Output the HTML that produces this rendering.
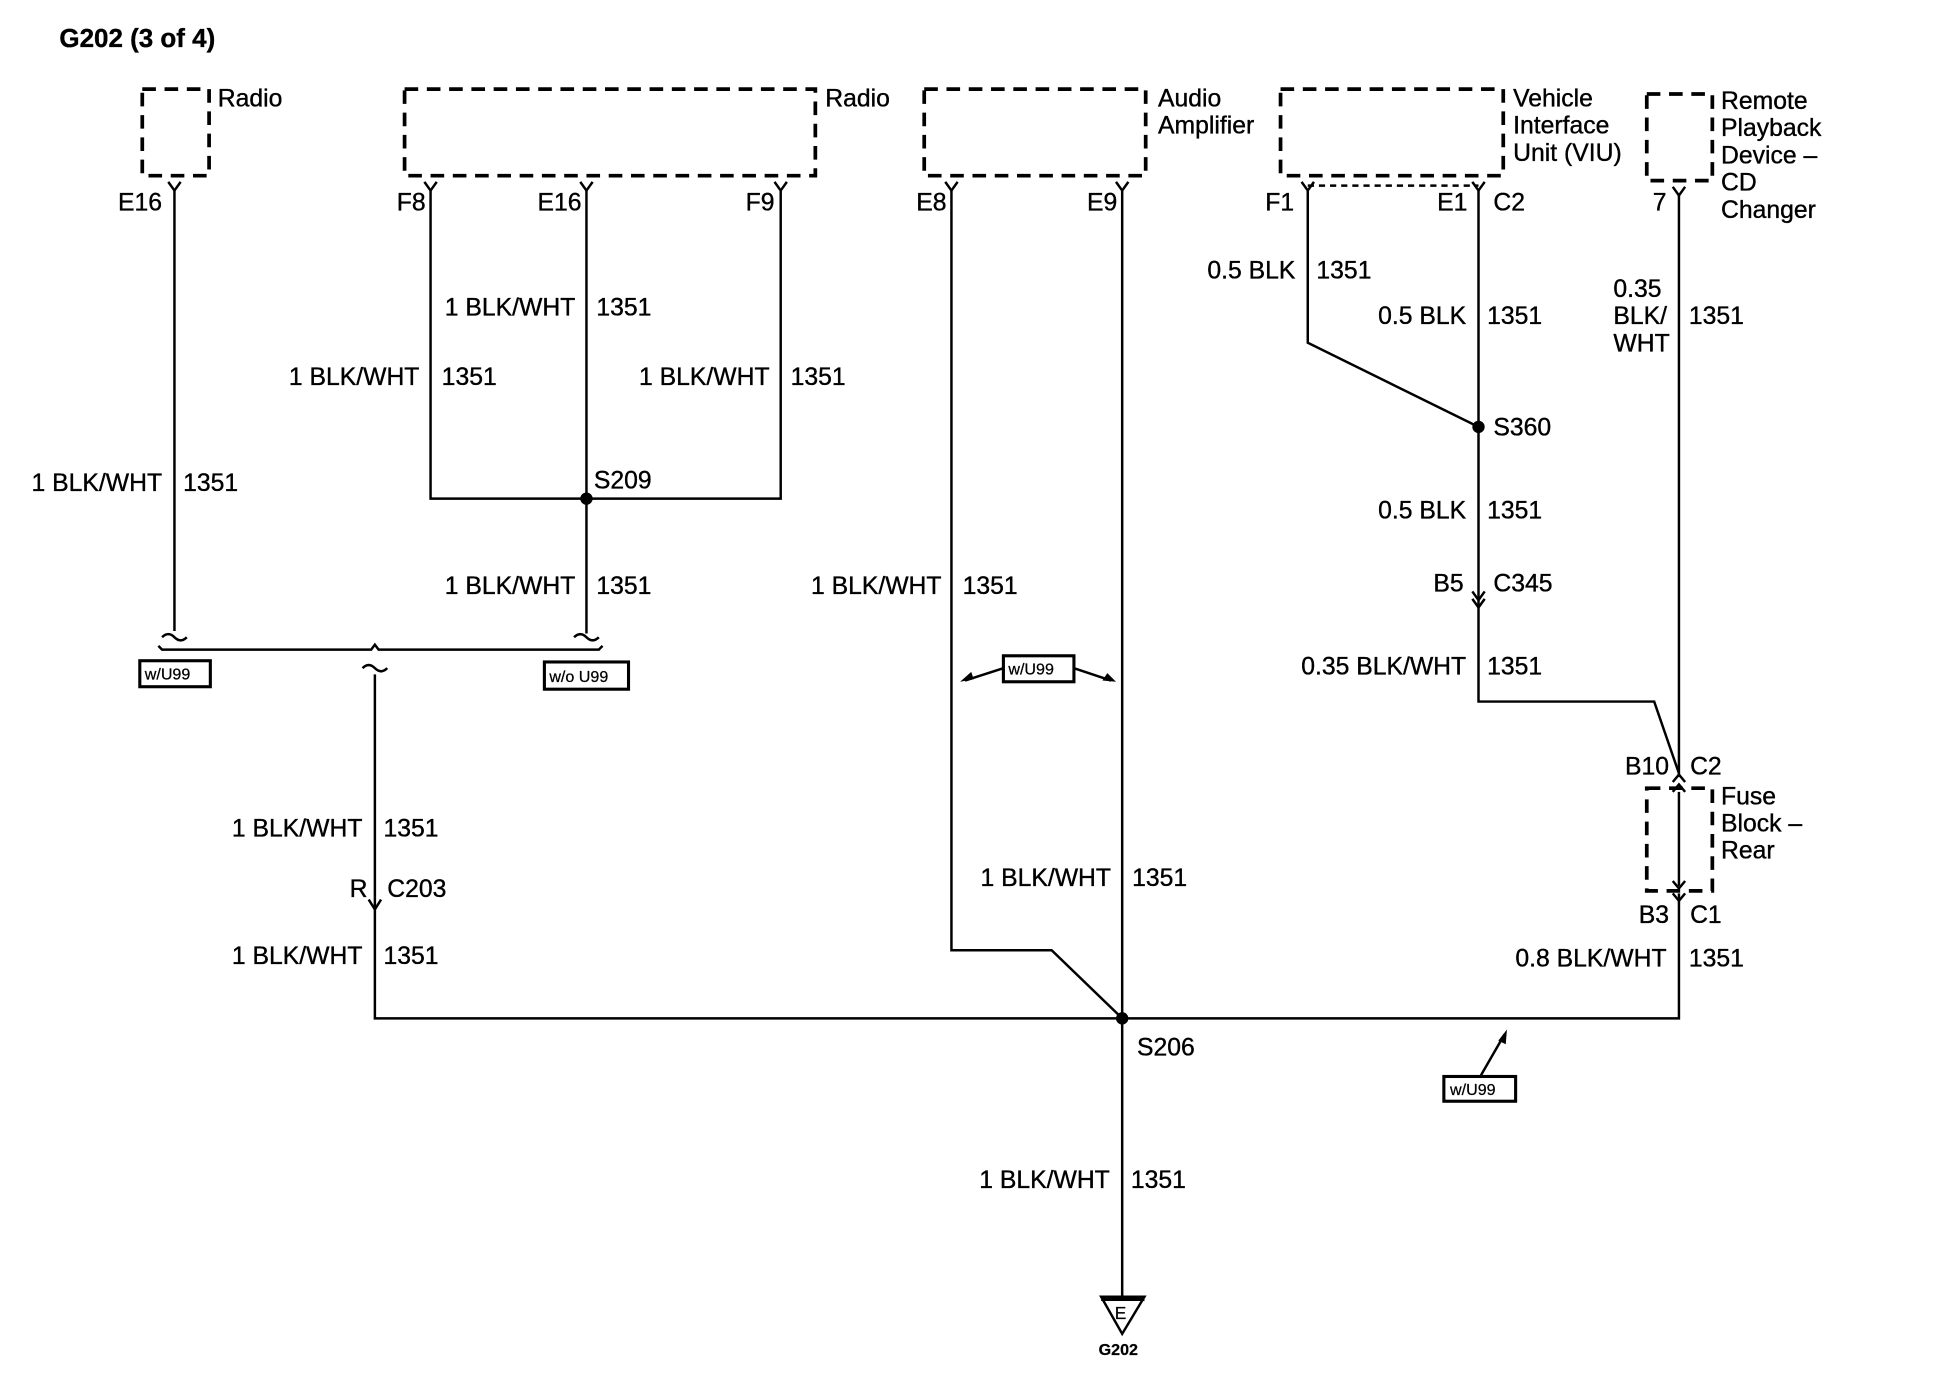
<!DOCTYPE html>
<html><head><meta charset="utf-8"><style>
html,body{margin:0;padding:0;background:#fff}
svg{display:block}
text{font-family:"Liberation Sans",sans-serif;font-size:20px;fill:#000;stroke:#000;stroke-width:0.3px}
.b{font-weight:bold}
.s{font-size:13px;stroke-width:0.2px}
</style></head><body>
<svg width="1940" height="1392" viewBox="0 0 1568 1125" preserveAspectRatio="none" xmlns="http://www.w3.org/2000/svg">
<g fill="none" stroke="#000" stroke-width="2">
<g stroke-width="3" stroke-dasharray="11,7">
<rect x="115" y="72" width="54" height="70"/>
<rect x="327" y="72" width="332" height="70"/>
<rect x="747" y="72" width="179" height="70"/>
<rect x="1035" y="72" width="180" height="70"/>
<rect x="1331" y="76" width="53" height="70"/>
<rect x="1331" y="637" width="53" height="83"/>
</g>
<line x1="1057" y1="150" x2="1195" y2="150" stroke-dasharray="5,4"/>
<path d="M136,147 L141,154 L146,147 M343,147 L348,154 L353,147 M469,147 L474,154 L479,147 M626,147 L631,154 L636,147 M764,147 L769,154 L774,147 M902,147 L907,154 L912,147 M1052,147 L1057,154 L1062,147 M1190,147 L1195,154 L1200,147 M1352,151 L1357,158 L1362,151"/>
<path d="M141,154 V510"/>
<path d="M348,154 V403 H631 V154"/>
<path d="M474,154 V512"/>
<path d="M769,154 V768 H850 L907,823"/>
<path d="M907,154 V1048"/>
<path d="M1057,154 V277 L1195,345"/>
<path d="M1195,154 V567 H1337 L1357,625"/>
<path d="M1357,158 V628"/>
<path d="M1357,640 V716"/>
<path d="M1357,722 V823 H303 V545"/>
<path d="M131,515 q5,-5 10,0 q5,5 10,0 M464,515 q5,-5 10,0 q5,5 10,0"/>
<path d="M128,522 l3,3 H300 l3,-4 l3,4 H484 l3,-3"/>
<path d="M293,540 q5,-5 10,0 q5,5 10,0"/>
<path d="M1190,478 l5,7 l5,-7 M1190,484 l5,7 l5,-7"/>
<path d="M298,727 l5,8 l5,-8"/>
<path d="M1352,632 l5,-6 l5,6 M1352,640 l5,-6 l5,6 M1352,712 l5,6 l5,-6 M1352,722 l5,6 l5,-6"/>
<rect x="113" y="534" width="57" height="21" stroke-width="2.5"/>
<rect x="440" y="535" width="68" height="22" stroke-width="2.5"/>
<rect x="811" y="530" width="57" height="21" stroke-width="2.5"/>
<rect x="1167" y="870" width="58" height="20" stroke-width="2.5"/>
<path d="M811,540 L780,550 M868,540 L898,550 M1197,869 L1216,836"/>
</g>
<g fill="#000">
<circle cx="474" cy="403" r="5"/>
<circle cx="1195" cy="345" r="5"/>
<circle cx="907" cy="823" r="5"/>
<path d="M776,551 l9,-8 l2,6 z M902,551 l-11,-1 l4,-6 z M1218,832 l-1,12 l-6,-3 z"/>
</g>
<path d="M890,1048 H925 L907,1078 Z" fill="none" stroke="#000" stroke-width="2"/>
<line x1="890" y1="1050" x2="925" y2="1050" stroke="#000" stroke-width="3"/>
<text x="901" y="1066" class="s" style="font-size:14px">E</text>
<text x="888" y="1095" class="s b">G202</text>

<text x="48" y="38" class="b" style="font-size:21px">G202 (3 of 4)</text>
<text x="176" y="86">Radio</text>
<text x="667" y="86">Radio</text>
<text x="936" y="86">Audio</text><text x="936" y="108">Amplifier</text>
<text x="1223" y="86">Vehicle</text><text x="1223" y="108">Interface</text><text x="1223" y="130">Unit (VIU)</text>
<text x="1391" y="88">Remote</text><text x="1391" y="110">Playback</text><text x="1391" y="132">Device –</text><text x="1391" y="154">CD</text><text x="1391" y="176">Changer</text>
<text x="1391" y="650">Fuse</text><text x="1391" y="672">Block –</text><text x="1391" y="694">Rear</text>

<g text-anchor="end">
<text x="131" y="170">E16</text><text x="344" y="170">F8</text><text x="470" y="170">E16</text><text x="626" y="170">F9</text>
<text x="765" y="170">E8</text><text x="903" y="170">E9</text><text x="1046" y="170">F1</text><text x="1186" y="170">E1</text><text x="1347" y="170">7</text>
<text x="131" y="397">1 BLK/WHT</text>
<text x="339" y="311">1 BLK/WHT</text>
<text x="465" y="255">1 BLK/WHT</text>
<text x="622" y="311">1 BLK/WHT</text>
<text x="465" y="480">1 BLK/WHT</text>
<text x="761" y="480">1 BLK/WHT</text>
<text x="293" y="676">1 BLK/WHT</text>
<text x="293" y="779">1 BLK/WHT</text>
<text x="898" y="716">1 BLK/WHT</text>
<text x="897" y="960">1 BLK/WHT</text>
<text x="1047" y="225">0.5 BLK</text>
<text x="1185" y="262">0.5 BLK</text>
<text x="1185" y="419">0.5 BLK</text>
<text x="1185" y="545">0.35 BLK/WHT</text>
<text x="1347" y="781">0.8 BLK/WHT</text>
<text x="1183" y="478">B5</text>
<text x="1349" y="626">B10</text>
<text x="1349" y="746">B3</text>
<text x="297" y="725">R</text>
</g>
<text x="148" y="397">1351</text>
<text x="357" y="311">1351</text>
<text x="482" y="255">1351</text>
<text x="639" y="311">1351</text>
<text x="482" y="480">1351</text>
<text x="778" y="480">1351</text>
<text x="310" y="676">1351</text>
<text x="310" y="779">1351</text>
<text x="915" y="716">1351</text>
<text x="914" y="960">1351</text>
<text x="1064" y="225">1351</text>
<text x="1202" y="262">1351</text>
<text x="1202" y="419">1351</text>
<text x="1202" y="545">1351</text>
<text x="1365" y="262">1351</text>
<text x="1365" y="781">1351</text>
<text x="1304" y="240">0.35</text><text x="1304" y="262">BLK/</text><text x="1304" y="284">WHT</text>
<text x="1207" y="170">C2</text>
<text x="1207" y="352">S360</text>
<text x="480" y="395">S209</text>
<text x="1207" y="478">C345</text>
<text x="1366" y="626">C2</text>
<text x="1366" y="746">C1</text>
<text x="313" y="725">C203</text>
<text x="919" y="853">S206</text>
<text x="117" y="549" class="s">w/U99</text>
<text x="444" y="551" class="s">w/o U99</text>
<text x="815" y="545" class="s">w/U99</text>
<text x="1172" y="885" class="s">w/U99</text>
</svg>
</body></html>
